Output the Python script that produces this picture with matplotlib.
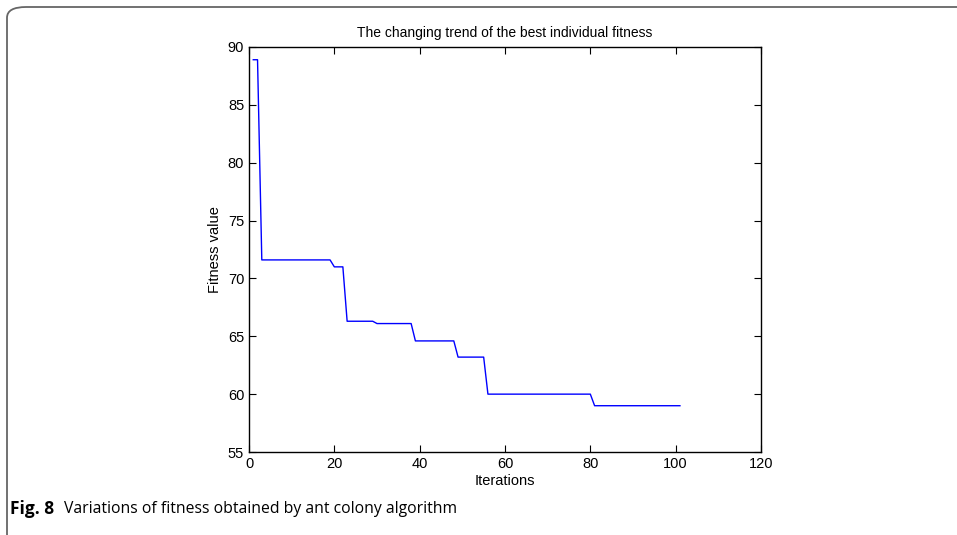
import matplotlib.pyplot as plt
from matplotlib.patches import FancyBboxPatch

# step changes of the best fitness (iteration where a new level starts, level value)
iterations = [1, 2, 3, 19, 20, 22, 23, 29, 30, 38, 39, 48, 49, 55, 56, 80, 81, 101]
fitness = [88.9, 88.9, 71.6, 71.6, 71.0, 71.0, 66.3, 66.3, 66.1, 66.1,
           64.6, 64.6, 63.2, 63.2, 60.0, 60.0, 59.0, 59.0]

xticks = [0, 20, 40, 60, 80, 100, 120]
yticks = [55, 60, 65, 70, 75, 80, 85, 90]

plt.rcParams['font.family'] = ['Liberation Sans', 'DejaVu Sans']

fig = plt.figure(figsize=(9.57, 5.35), dpi=100)
W, H = 957, 535

# rounded frame around the figure, cut on the right/bottom
frame = FancyBboxPatch((7 / W, -10 / H), 1.2, (535 - 7 + 10) / H,
                       boxstyle="round,pad=0,rounding_size=0.02",
                       transform=fig.transFigure, fill=False,
                       edgecolor='#666666', linewidth=1.3, clip_on=False)
fig.patches.append(frame)

ax = fig.add_axes([249 / W, 1 - 452 / H, (761 - 249) / W, (452 - 47) / H])
ax.plot(iterations, fitness, color='#0000ff', linewidth=1.0)

ax.set_xlim(0, 120)
ax.set_ylim(55, 90)
ax.set_xticks(xticks)
ax.set_yticks(yticks)
ax.tick_params(direction='in', top=True, right=True, labelsize=10.5, length=5, width=0.8)
for s in ax.spines.values():
    s.set_linewidth(1.0)

ax.set_xlabel('Iterations', fontsize=10.5, labelpad=2)
ax.set_ylabel('Fitness value', fontsize=10.5, labelpad=4)
ax.set_title('The changing trend of the best individual fitness', fontsize=10, pad=7)

fig.text(10 / W, 1 - 509 / H, 'Fig. 8', fontsize=12.5, fontweight='bold',
         family=['Open Sans', 'DejaVu Sans'], va='center')
fig.text(64 / W, 1 - 509 / H, 'Variations of fitness obtained by ant colony algorithm',
         fontsize=11.3, family=['Open Sans', 'DejaVu Sans'], va='center')

fig.savefig('out.png', dpi=100)
